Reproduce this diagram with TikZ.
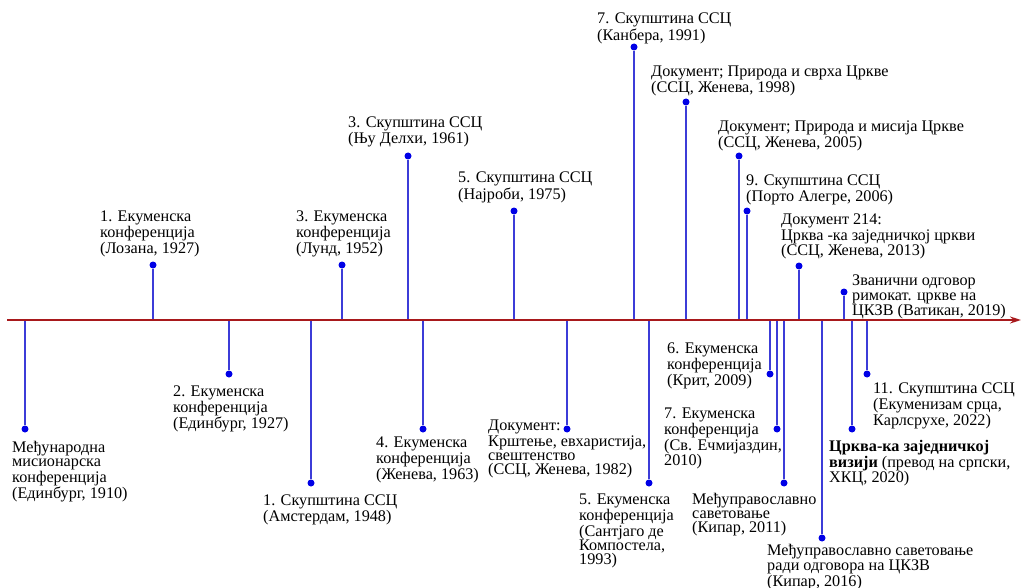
\documentclass[tikz,border=0pt]{standalone}
\usepackage{fontspec}
\setmainfont{Liberation Serif}
\usepackage{tikz}
\usetikzlibrary{arrows.meta, positioning}
\usepackage{xcolor}
\definecolor{axisred}{HTML}{A8191C}
\definecolor{stemblue}{HTML}{3C3CD8}
\definecolor{dotblue}{HTML}{0000E6}
\tikzset{
  evdot/.style={circle, fill=dotblue, inner sep=0pt, minimum size=7pt},
  evlabel/.style={anchor=north west, inner sep=0pt, align=left,
    font=\fontsize{16.2}{14.2}\selectfont},
  stemline/.style={draw=stemblue, line width=1.1pt},
  timeaxis/.style={draw=axisred, line width=1.8pt, -{Stealth[length=11pt, width=7pt]}},
}

\begin{document}
\begin{tikzpicture}[x=1pt, y=-1pt]
\useasboundingbox (0,0) rectangle (1022,588);

% Time axis
\coordinate (axstart) at (7,320);
\coordinate (axend) at (1021,320);

% Events above the axis
\node[evdot] (loz27) at (153,265) {};
\node[evlabel] (tloz27) at (100,211) {1. Екуменска\\конференција\\(Лозана, 1927)};
\node[evdot] (lun52) at (342,265) {};
\node[evlabel] (tlun52) at (296,211) {3. Екуменска\\конференција\\(Лунд, 1952)};
\node[evdot] (del61) at (408,156) {};
\node[evlabel] (tdel61) at (348,117) {3. Скупштина ССЦ\\(Њу Делхи, 1961)};
\node[evdot] (naj75) at (514,211) {};
\node[evlabel] (tnaj75) at (458,172) {5. Скупштина ССЦ\\(Најроби, 1975)};
\node[evdot] (kan91) at (634,47) {};
\node[evlabel] (tkan91) at (597,13) {7. Скупштина ССЦ\\(Канбера, 1991)};
\node[evdot] (pri98) at (686,102) {};
\node[evlabel] (tpri98) at (651,66) {Документ; Природа и сврха Цркве\\(ССЦ, Женева, 1998)};
\node[evdot] (mis05) at (739,156) {};
\node[evlabel] (tmis05) at (718,121) {Документ; Природа и мисија Цркве\\(ССЦ, Женева, 2005)};
\node[evdot] (por06) at (747,211) {};
\node[evlabel] (tpor06) at (746,175) {9. Скупштина ССЦ\\(Порто Алегре, 2006)};
\node[evdot] (cha13) at (799,266) {};
\node[evlabel] (tcha13) at (781,214) {Документ 214:\\Црква -ка заједничкој цркви\\(ССЦ, Женева, 2013)};
\node[evdot] (vat19) at (844,292) {};
\node[evlabel] (tvat19) at (852,275) {Званични одговор\\римокат. цркве на\\ЦКЗВ (Ватикан, 2019)};

% Events below the axis
\node[evdot] (edi10) at (25,429) {};
\node[evlabel] (tedi10) at (12,441) {Међународна\\мисионарска\\конференција\\(Единбург, 1910)};
\node[evdot] (edi27) at (229,374) {};
\node[evlabel] (tedi27) at (173,386) {2. Екуменска\\конференција\\(Единбург, 1927)};
\node[evdot] (ams48) at (311,483) {};
\node[evlabel] (tams48) at (263,495) {1. Скупштина ССЦ\\(Амстердам, 1948)};
\node[evdot] (zen63) at (423,429) {};
\node[evlabel] (tzen63) at (376,437) {4. Екуменска\\конференција\\(Женева, 1963)};
\node[evdot] (bem82) at (567,429) {};
\node[evlabel] (tbem82) at (488,420) {Документ:\\Крштење, евхаристија,\\свештенство\\(ССЦ, Женева, 1982)};
\node[evdot] (san93) at (649,483) {};
\node[evlabel] (tsan93) at (579,494) {5. Екуменска\\конференција\\(Сантјаго де\\Компостела,\\1993)};
\node[evdot] (kri09) at (770,374) {};
\node[evlabel] (tkri09) at (667,343) {6. Екуменска\\конференција\\(Крит, 2009)};
\node[evdot] (ecm10) at (777,429) {};
\node[evlabel] (tecm10) at (664,408) {7. Екуменска\\конференција\\(Св. Ечмијаздин,\\2010)};
\node[evdot] (kip11) at (784,483) {};
\node[evlabel] (tkip11) at (692,493) {Међуправославно\\саветовање\\(Кипар, 2011)};
\node[evdot] (kip16) at (822,538) {};
\node[evlabel] (tkip16) at (767,544) {Међуправославно саветовање\\ради одговора на ЦКЗВ\\(Кипар, 2016)};
\node[evdot] (viz20) at (852,429) {};
\node[evlabel] (tviz20) at (829,440) {\textbf{Црква-ка заједничкој}\\\textbf{визији} (превод на српски,\\ХКЦ, 2020)};
\node[evdot] (kar22) at (867,374) {};
\node[evlabel] (tkar22) at (873,383) {11. Скупштина ССЦ\\(Екуменизам срца,\\Карлсрухе, 2022)};

% Stems
\draw[stemline] (loz27.south) -- (loz27 |- axstart);
\draw[stemline] (lun52.south) -- (lun52 |- axstart);
\draw[stemline] (del61.south) -- (del61 |- axstart);
\draw[stemline] (naj75.south) -- (naj75 |- axstart);
\draw[stemline] (kan91.south) -- (kan91 |- axstart);
\draw[stemline] (pri98.south) -- (pri98 |- axstart);
\draw[stemline] (mis05.south) -- (mis05 |- axstart);
\draw[stemline] (por06.south) -- (por06 |- axstart);
\draw[stemline] (cha13.south) -- (cha13 |- axstart);
\draw[stemline] (vat19.south) -- (vat19 |- axstart);
\draw[stemline] (edi10.north) -- (edi10 |- axstart);
\draw[stemline] (edi27.north) -- (edi27 |- axstart);
\draw[stemline] (ams48.north) -- (ams48 |- axstart);
\draw[stemline] (zen63.north) -- (zen63 |- axstart);
\draw[stemline] (bem82.north) -- (bem82 |- axstart);
\draw[stemline] (san93.north) -- (san93 |- axstart);
\draw[stemline] (kri09.north) -- (kri09 |- axstart);
\draw[stemline] (ecm10.north) -- (ecm10 |- axstart);
\draw[stemline] (kip11.north) -- (kip11 |- axstart);
\draw[stemline] (kip16.north) -- (kip16 |- axstart);
\draw[stemline] (viz20.north) -- (viz20 |- axstart);
\draw[stemline] (kar22.north) -- (kar22 |- axstart);

\draw[timeaxis] (axstart) -- (axend);

\end{tikzpicture}
\end{document}
